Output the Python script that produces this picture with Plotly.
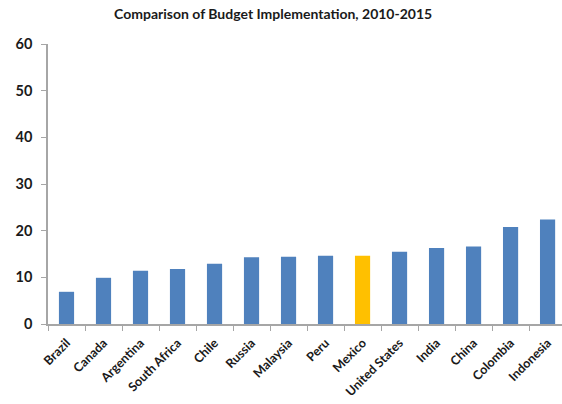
import plotly.graph_objects as go

countries = ["Brazil", "Canada", "Argentina", "South Africa", "Chile", "Russia", "Malaysia",
             "Peru", "Mexico", "United States", "India", "China", "Colombia", "Indonesia"]
values = [6.9, 9.9, 11.4, 11.8, 12.9, 14.3, 14.4, 14.6, 14.6, 15.5, 16.3, 16.6, 20.8, 22.4]
highlight = "Mexico"
y_ticks = [0, 10, 20, 30, 40, 50, 60]

colors = ["#FFC000" if c == highlight else "#4F81BD" for c in countries]

fig = go.Figure(go.Bar(x=countries, y=values, marker=dict(color=colors, line=dict(width=0)),
                       width=0.41))

font_family = "Lato, 'Open Sans', sans-serif"
fig.update_layout(
    width=562, height=404,
    margin=dict(l=48, r=0, t=44, b=80),
    plot_bgcolor="white", paper_bgcolor="white",
    title=dict(text="<b>Comparison of Budget Implementation, 2010-2015</b>",
               x=0.486, xanchor="center", y=0.965, yanchor="middle",
               font=dict(family=font_family, size=14, color="#1a1a1a")),
    showlegend=False,
    bargap=0.59,
)
fig.update_xaxes(
    range=[-0.5, 13.39], showline=True, linecolor="#a6a6a6", linewidth=1.5,
    ticks="outside", tickson="boundaries", ticklen=5, tickcolor="#a6a6a6",
    tickangle=-45, showgrid=False, automargin=False, ticklabelstandoff=5,
    tickmode="array", tickvals=countries, ticktext=[f"<b>{c}</b>" for c in countries],
    tickfont=dict(family=font_family, size=12.5, color="#1a1a1a"),
)
fig.update_yaxes(
    range=[0, 60], showline=True, linecolor="#a6a6a6", linewidth=1.5,
    ticks="outside", ticklen=5, tickcolor="#a6a6a6", showgrid=False, zeroline=False,
    automargin=False, ticklabelstandoff=6,
    tickmode="array", tickvals=y_ticks, ticktext=[f"<b>{v}</b>" for v in y_ticks],
    tickfont=dict(family=font_family, size=14.5, color="#1a1a1a"),
)
fig.write_html("out.html", config={"displayModeBar": False},
               post_script="document.body.style.margin='0';")
